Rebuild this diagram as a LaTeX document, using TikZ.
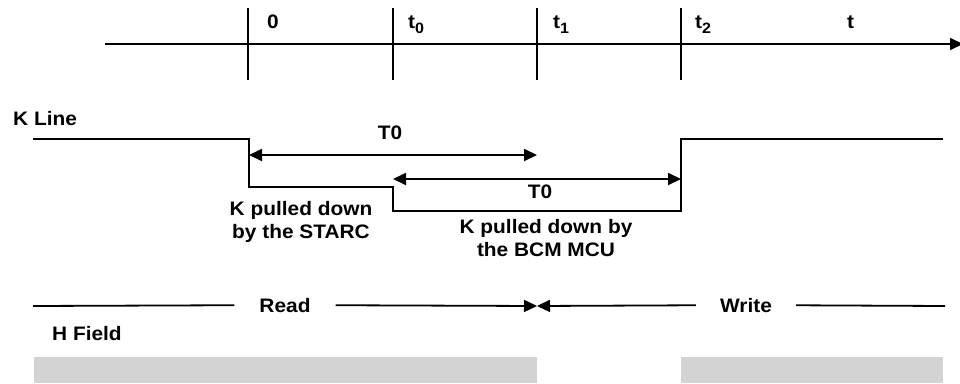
\documentclass[tikz,border=0pt]{standalone}
\usepackage{fontspec}
\setmainfont{Liberation Sans}[FakeStretch=1.07]
\usetikzlibrary{arrows.meta}
\definecolor{hgray}{RGB}{211,211,211}
\newcommand{\mysub}[1]{\raisebox{-5pt}{\fontsize{15}{15}\selectfont #1}}
\begin{document}
\begin{tikzpicture}[x=1pt,y=-1pt,
  lbl/.style={font=\fontsize{19.5}{23.5}\selectfont\bfseries, inner sep=0pt},
  wire/.style={line width=1.8pt},
  tip/.tip={Triangle[length=13pt,width=12pt]},
  dim/.style={wire, tip-tip},
  hfield/.style={fill=hgray, draw=none}]
\useasboundingbox (0,0) rectangle (960,383);
% time axis
\coordinate (ax0) at (105,44);
\coordinate (ax1) at (963,44);
\draw[wire,-tip] (ax0) -- (ax1);
\foreach \n/\x in {a/248,b/393,c/537,d/681}{
  \coordinate (tt\n) at (\x,8);
  \coordinate (tb\n) at (\x,80);
  \draw[wire] (tt\n) -- (tb\n);
}
\node[lbl,anchor=base west] (l0) at (267,28) {0};
\node[lbl,anchor=base west] (lt0) at (408,28) {t\mysub{0}};
\node[lbl,anchor=base west] (lt1) at (553,28) {t\mysub{1}};
\node[lbl,anchor=base west] (lt2) at (695,28) {t\mysub{2}};
\node[lbl,anchor=base west] (lt) at (847,28) {t};
% K line
\node[lbl,anchor=base west] (kline) at (13,125) {K Line};
\coordinate (k1) at (33,139);
\coordinate (k2) at (249,139);
\coordinate (k3) at (249,187);
\coordinate (k4) at (393,187);
\coordinate (k5) at (393,211);
\coordinate (k6) at (681,211);
\coordinate (k7) at (681,139);
\coordinate (k8) at (943,139);
\draw[wire] (k1) -- (k2) -- (k3) -- (k4) -- (k5) -- (k6) -- (k7) -- (k8);
% T0 arrows
\coordinate (a1l) at (249,155);
\coordinate (a1r) at (537,155);
\draw[dim] (a1l) -- (a1r);
\node[lbl,anchor=base] (T0a) at (390,139) {T0};
\coordinate (a2l) at (393,179);
\coordinate (a2r) at (681,179);
\draw[dim] (a2l) -- (a2r);
\node[lbl,anchor=base] (T0b) at (540,198) {T0};
\node[lbl,anchor=north,align=center] (starc) at (301,201) {K pulled down\\by the STARC};
\node[lbl,anchor=north,align=center] (bcm) at (546,219) {K pulled down by\\the BCM MCU};
% Read / Write
\coordinate (r0) at (33,306);
\coordinate (mid) at (537,306);
\coordinate (w1) at (945,306);
\node[lbl,inner xsep=25pt,anchor=base] (read) at (285,312) {Read};
\node[lbl,inner xsep=24pt,anchor=base] (write) at (746,312) {Write};
\draw[wire] (r0) -- (read);
\draw[wire,-tip] (read) -- (mid);
\draw[wire,-tip] (write) -- (mid);
\draw[wire] (write) -- (w1);
% H field
\node[lbl,anchor=base west] (hf) at (52,340) {H Field};
\fill[hfield] (34,357) rectangle (537,383);
\fill[hfield] (681,357) rectangle (943,383);
\end{tikzpicture}
\end{document}
